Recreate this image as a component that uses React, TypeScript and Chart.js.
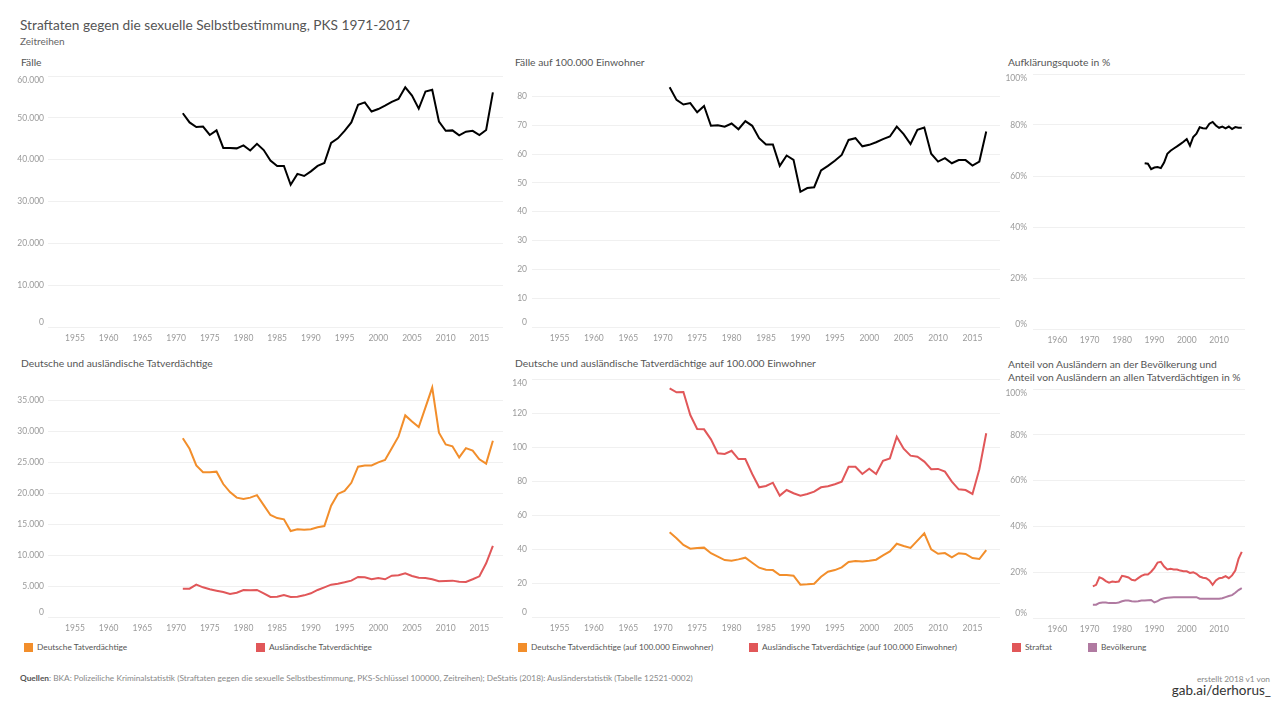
import React, { useEffect, useRef } from "react";
import { Chart, registerables } from "chart.js";

Chart.register(...registerables);

// ---------- data ----------
const years = [
  1971, 1972, 1973, 1974, 1975, 1976, 1977, 1978, 1979, 1980,
  1981, 1982, 1983, 1984, 1985, 1986, 1987, 1988, 1989, 1990,
  1991, 1992, 1993, 1994, 1995, 1996, 1997, 1998, 1999, 2000,
  2001, 2002, 2003, 2004, 2005, 2006, 2007, 2008, 2009, 2010,
  2011, 2012, 2013, 2014, 2015, 2016, 2017,
];
const yearsQuote = [
  1987, 1988, 1989, 1990, 1991, 1992, 1993, 1994, 1995, 1996,
  1997, 1998, 1999, 2000, 2001, 2002, 2003, 2004, 2005, 2006,
  2007, 2008, 2009, 2010, 2011, 2012, 2013, 2014, 2015, 2016, 2017,
];

const faelle = [
  51100, 48900, 47800, 47900, 45900, 47000, 42800, 42800, 42700, 43400,
  42200, 43800, 42300, 39800, 38500, 38500, 34000, 36600, 36100, 37200,
  38500, 39200, 44000, 45100, 46900, 48900, 53100, 53700, 51500, 52100,
  52900, 53800, 54500, 57300, 55300, 52200, 56300, 56700, 49100, 46900,
  47000, 45800, 46700, 46900, 45900, 47100, 56100,
];
const faelleHz = [
  83.2, 78.8, 77.2, 77.7, 74.5, 76.7, 69.8, 70.0, 69.5, 70.6,
  68.6, 71.4, 69.8, 65.5, 63.3, 63.3, 55.9, 59.5, 58.0, 46.9,
  48.2, 48.5, 54.3, 55.9, 57.7, 59.7, 64.9, 65.5, 62.7, 63.2,
  64.1, 65.2, 66.1, 69.5, 66.9, 63.5, 68.4, 69.2, 60.1, 57.4,
  58.6, 56.8, 57.9, 57.9, 56.0, 57.4, 67.8,
];
const aufklaerungsquote = [
  65.0, 64.8, 62.7, 63.3, 63.5, 63.1, 65.3, 68.7, 69.9, 70.8,
  71.6, 72.5, 73.4, 74.5, 71.9, 75.3, 76.6, 79.1, 78.7, 78.6,
  80.5, 81.2, 79.8, 78.9, 79.4, 78.7, 79.4, 78.4, 79.2, 78.9, 78.9,
];
const deutscheTV = [
  28900, 27200, 24500, 23400, 23400, 23500, 21500, 20200, 19300, 19100,
  19300, 19700, 18100, 16500, 16000, 15800, 13900, 14200, 14100, 14200,
  14500, 14700, 18000, 19900, 20400, 21700, 24300, 24500, 24500, 25000,
  25400, 27300, 29200, 32600, 31600, 30700, 33900, 37100, 29800, 27900,
  27600, 25800, 27300, 26900, 25500, 24800, 28500,
];
const auslaendischeTV = [
  4580, 4580, 5230, 4800, 4480, 4260, 4050, 3720, 3930, 4370,
  4320, 4370, 3830, 3240, 3290, 3560, 3240, 3290, 3500, 3830,
  4370, 4800, 5230, 5390, 5610, 5880, 6470, 6420, 6100, 6310,
  6100, 6690, 6740, 7070, 6630, 6360, 6310, 6100, 5780, 5830,
  5880, 5710, 5660, 6100, 6580, 8690, 11490,
];
const deutscheTVHz = [
  49.8, 46.3, 42.4, 40.2, 40.6, 40.8, 37.5, 35.5, 33.5, 33.1,
  33.9, 34.9, 31.9, 29.0, 27.8, 27.6, 24.7, 24.7, 24.3, 19.0,
  19.2, 19.6, 23.7, 26.6, 27.6, 29.2, 32.4, 32.9, 32.7, 33.1,
  33.7, 36.3, 38.6, 43.1, 41.8, 40.6, 44.9, 49.2, 39.8, 37.2,
  37.6, 35.1, 37.5, 37.1, 34.7, 34.1, 39.4,
];
const auslaendischeTVHz = [
  134.5, 132.2, 132.4, 118.8, 110.6, 110.4, 104.5, 96.3, 95.9, 97.8,
  92.9, 92.9, 84.1, 76.3, 77.1, 79.0, 71.4, 74.7, 72.8, 71.4,
  72.4, 73.7, 76.3, 76.9, 78.1, 79.6, 88.4, 88.4, 84.1, 87.2,
  84.1, 91.9, 93.3, 106.1, 99.0, 94.9, 94.3, 91.4, 86.9, 87.1,
  85.5, 79.6, 75.1, 74.7, 72.4, 86.9, 108.1,
];
const anteilStraftat = [
  13.8, 14.5, 17.8, 17.2, 16.1, 15.4, 15.9, 15.7, 15.9, 18.4,
  18.1, 17.7, 16.7, 16.4, 17.4, 18.4, 19.0, 19.0, 20.2, 21.9,
  24.2, 24.5, 22.5, 21.2, 21.5, 21.2, 21.2, 20.7, 20.4, 20.4,
  19.7, 20.0, 19.3, 18.1, 17.6, 17.4, 16.4, 14.5, 16.4, 17.4,
  17.6, 18.3, 17.4, 18.6, 20.7, 25.8, 28.9,
];
const anteilBevoelkerung = [
  5.8, 5.8, 6.6, 6.8, 6.8, 6.5, 6.5, 6.5, 6.8, 7.3,
  7.6, 7.6, 7.3, 7.2, 7.3, 7.6, 7.6, 7.8, 7.9, 6.8,
  7.4, 8.2, 8.6, 8.8, 9.0, 9.1, 9.1, 9.1, 9.1, 9.1,
  9.1, 9.1, 9.1, 8.4, 8.4, 8.4, 8.4, 8.4, 8.4, 8.4,
  8.6, 9.1, 9.6, 10.0, 11.0, 12.2, 13.0,
];

// tick labels
const xTicksWide = [1955, 1960, 1965, 1970, 1975, 1980, 1985, 1990, 1995, 2000, 2005, 2010, 2015];
const xTicksNarrow = [1960, 1970, 1980, 1990, 2000, 2010];
const yTicksFaelle = [0, 10000, 20000, 30000, 40000, 50000, 60000];
const yTicksFaelleHz = [0, 10, 20, 30, 40, 50, 60, 70, 80];
const yTicksPercent = [0, 20, 40, 60, 80, 100];
const yTicksTV = [0, 5000, 10000, 15000, 20000, 25000, 30000, 35000];
const yTicksTVHz = [0, 20, 40, 60, 80, 100, 120, 140];

// ---------- styles ----------
const FONT = "Lato, 'Open Sans', sans-serif";
const BLACK = "#000000";
const ORANGE = "#f28e2b";
const RED = "#e15759";
const PURPLE = "#b07aa1";
const TICK_COLOR = "#9a9a9a";
const GRID_COLOR = "#f0f0f0";
const TICK_SIZE = 8.5;

const thousands = (v: number) => String(v).replace(/\B(?=(\d{3})+(?!\d))/g, ".");
const plain = (v: number) => String(v);
const pct = (v: number) => v + "%";

type Series = { xs: number[]; values: number[]; color: string; width?: number };
type PanelCfg = {
  left: number; top: number; width: number; height: number;
  yAxisW: number; xAxisH: number; padTop: number; padRight: number;
  xMin: number; xMax: number; xTicks: number[];
  yMin: number; yMax: number; yTicks: number[];
  fmt: (v: number) => string; yPad: number;
  series: Series[];
};

const panels: PanelCfg[] = [
  {
    left: 0, top: 70, width: 510, height: 275, yAxisW: 48, xAxisH: 18, padTop: 6, padRight: 7,
    xMin: 1951, xMax: 2018.5, xTicks: xTicksWide, yMin: 0, yMax: 60000, yTicks: yTicksFaelle,
    fmt: thousands, yPad: 4,
    series: [{ xs: years, values: faelle, color: BLACK }],
  },
  {
    left: 505, top: 76, width: 500, height: 269, yAxisW: 27, xAxisH: 18, padTop: 6, padRight: 5,
    xMin: 1951, xMax: 2019, xTicks: xTicksWide, yMin: 0, yMax: 85, yTicks: yTicksFaelleHz,
    fmt: plain, yPad: 5,
    series: [{ xs: years, values: faelleHz, color: BLACK }],
  },
  {
    left: 1005, top: 68, width: 255, height: 279, yAxisW: 28, xAxisH: 18, padTop: 6, padRight: 15,
    xMin: 1952.5, xMax: 2018, xTicks: xTicksNarrow, yMin: 0, yMax: 100, yTicks: yTicksPercent,
    fmt: pct, yPad: 6,
    series: [{ xs: yearsQuote, values: aufklaerungsquote, color: BLACK }],
  },
  {
    left: 0, top: 376, width: 510, height: 259, yAxisW: 48, xAxisH: 18, padTop: 6, padRight: 7,
    xMin: 1951, xMax: 2018.5, xTicks: xTicksWide, yMin: 0, yMax: 38000, yTicks: yTicksTV,
    fmt: thousands, yPad: 4,
    series: [
      { xs: years, values: deutscheTV, color: ORANGE },
      { xs: years, values: auslaendischeTV, color: RED },
    ],
  },
  {
    left: 505, top: 373, width: 500, height: 262, yAxisW: 27, xAxisH: 18, padTop: 6, padRight: 5,
    xMin: 1951, xMax: 2019, xTicks: xTicksWide, yMin: 0, yMax: 140, yTicks: yTicksTVHz,
    fmt: plain, yPad: 5,
    series: [
      { xs: years, values: deutscheTVHz, color: ORANGE },
      { xs: years, values: auslaendischeTVHz, color: RED },
    ],
  },
  {
    left: 1005, top: 383, width: 255, height: 253, yAxisW: 28, xAxisH: 18, padTop: 6, padRight: 15,
    xMin: 1952.5, xMax: 2018, xTicks: xTicksNarrow, yMin: 0, yMax: 100, yTicks: yTicksPercent,
    fmt: pct, yPad: 6,
    series: [
      { xs: years, values: anteilStraftat, color: RED },
      { xs: years, values: anteilBevoelkerung, color: PURPLE },
    ],
  },
];

// Draws y tick labels kept inside the pane (like the original), positioned by the y scale.
const insetYLabels = {
  id: "insetYLabels",
  afterDraw(chart: any, _args: any, opts: any) {
    const s = chart.scales.y;
    const area = chart.chartArea;
    const ctx = chart.ctx;
    ctx.save();
    ctx.font = `${TICK_SIZE}px ${FONT}`;
    ctx.fillStyle = TICK_COLOR;
    ctx.textAlign = "right";
    ctx.textBaseline = "middle";
    const inset = 4.5;
    (opts.ticks as number[]).forEach((v) => {
      let y = s.getPixelForValue(v);
      y = Math.max(area.top + inset, Math.min(area.bottom - inset, y));
      ctx.fillText(opts.fmt(v), area.left - opts.pad, y);
    });
    ctx.restore();
  },
};

function buildChart(canvas: HTMLCanvasElement, p: PanelCfg) {
  return new Chart(canvas, {
    type: "line",
    data: {
      datasets: p.series.map((s) => ({
        data: s.xs.map((x, i) => ({ x, y: s.values[i] })),
        borderColor: s.color,
        backgroundColor: s.color,
        borderWidth: s.width ?? 2,
        pointRadius: 0,
        tension: 0,
        fill: false,
      })),
    },
    plugins: [insetYLabels],
    options: {
      animation: false,
      responsive: false,
      events: [],
      layout: { padding: { top: p.padTop, right: p.padRight, left: 0, bottom: 0 }, autoPadding: false },
      plugins: {
        legend: { display: false },
        tooltip: { enabled: false },
        title: { display: false },
        insetYLabels: { ticks: p.yTicks, fmt: p.fmt, pad: p.yPad },
      },
      scales: {
        x: {
          type: "linear",
          min: p.xMin,
          max: p.xMax,
          grid: { display: false, drawTicks: false },
          border: { display: false },
          afterBuildTicks: (s: any) => { s.ticks = p.xTicks.map((v) => ({ value: v })); },
          afterFit: (s: any) => { s.height = p.xAxisH; },
          ticks: {
            autoSkip: false, maxRotation: 0, padding: 6, color: TICK_COLOR,
            font: { family: FONT, size: TICK_SIZE },
            callback: (v: any) => String(v),
          },
        },
        y: {
          type: "linear",
          min: p.yMin,
          max: p.yMax,
          grid: { color: GRID_COLOR, drawTicks: false, lineWidth: 1 },
          border: { display: false },
          afterBuildTicks: (s: any) => { s.ticks = p.yTicks.map((v) => ({ value: v })); },
          afterFit: (s: any) => { s.width = p.yAxisW; },
          ticks: { display: false },
        },
      },
    },
  } as any);
}

const Txt = ({ x, y, size, color, children, weight, right }: any) => (
  <div
    style={{
      position: "absolute",
      left: right ? undefined : x,
      right: right ? 1280 - x : undefined,
      top: y - size / 2 - 1,
      fontSize: size,
      lineHeight: size + 2 + "px",
      color,
      fontFamily: FONT,
      fontWeight: weight || 400,
      whiteSpace: "nowrap",
    }}
  >
    {children}
  </div>
);

const Legend = ({ x, y, color, label }: any) => (
  <>
    <div style={{ position: "absolute", left: x, top: y - 4.5, width: 9, height: 9, background: color }} />
    <Txt x={x + 13} y={y} size={8.3} color="#555">{label}</Txt>
  </>
);

export default function App() {
  const refs = useRef<(HTMLCanvasElement | null)[]>([]);
  useEffect(() => {
    const charts = panels.map((p, i) => buildChart(refs.current[i] as HTMLCanvasElement, p));
    return () => charts.forEach((c) => c.destroy());
  }, []);

  const T = 10.3;
  return (
    <div style={{ position: "absolute", left: 0, top: 0, width: 1280, height: 720, background: "#fff", overflow: "hidden" }}>
      <Txt x={20} y={25} size={13.7} color="#555">Straftaten gegen die sexuelle Selbstbestimmung, PKS 1971-2017</Txt>
      <Txt x={20} y={41} size={10} color="#666">Zeitreihen</Txt>

      <Txt x={21} y={62} size={T} color="#555">Fälle</Txt>
      <Txt x={515} y={62} size={T} color="#555">Fälle auf 100.000 Einwohner</Txt>
      <Txt x={1008} y={62} size={T} color="#555">Aufklärungsquote in %</Txt>
      <Txt x={21} y={363} size={T} color="#555">Deutsche und ausländische Tatverdächtige</Txt>
      <Txt x={515} y={363} size={T} color="#555">Deutsche und ausländische Tatverdächtige auf 100.000 Einwohner</Txt>
      <Txt x={1008} y={364} size={T} color="#555">Anteil von Ausländern an der Bevölkerung und</Txt>
      <Txt x={1008} y={377} size={T} color="#555">Anteil von Ausländern an allen Tatverdächtigen in %</Txt>

      {panels.map((p, i) => (
        <canvas
          key={i}
          ref={(el) => { refs.current[i] = el; }}
          width={p.width}
          height={p.height}
          style={{ position: "absolute", left: p.left, top: p.top, width: p.width, height: p.height }}
        />
      ))}

      <Legend x={24} y={647} color={ORANGE} label="Deutsche Tatverdächtige" />
      <Legend x={256} y={647} color={RED} label="Ausländische Tatverdächtige" />
      <Legend x={518} y={647} color={ORANGE} label="Deutsche Tatverdächtige (auf 100.000 Einwohner)" />
      <Legend x={749} y={647} color={RED} label="Ausländische Tatverdächtige (auf 100.000 Einwohner)" />
      <Legend x={1012} y={647} color={RED} label="Straftat" />
      <Legend x={1088} y={647} color={PURPLE} label="Bevölkerung" />

      <Txt x={20} y={678} size={8.3} color="#888">
        <span style={{ color: "#555", fontWeight: 700 }}>Quellen</span>: BKA: Polizeiliche Kriminalstatistik (Straftaten gegen die sexuelle Selbstbestimmung, PKS-Schlüssel 100000, Zeitreihen); DeStatis (2018): Ausländerstatistik (Tabelle 12521-0002)
      </Txt>
      <Txt x={1270} y={679} size={8.3} color="#888" right>erstellt 2018 v1 von</Txt>
      <Txt x={1271} y={691} size={13.5} color="#333" right>gab.ai/derhorus_</Txt>
    </div>
  );
}
